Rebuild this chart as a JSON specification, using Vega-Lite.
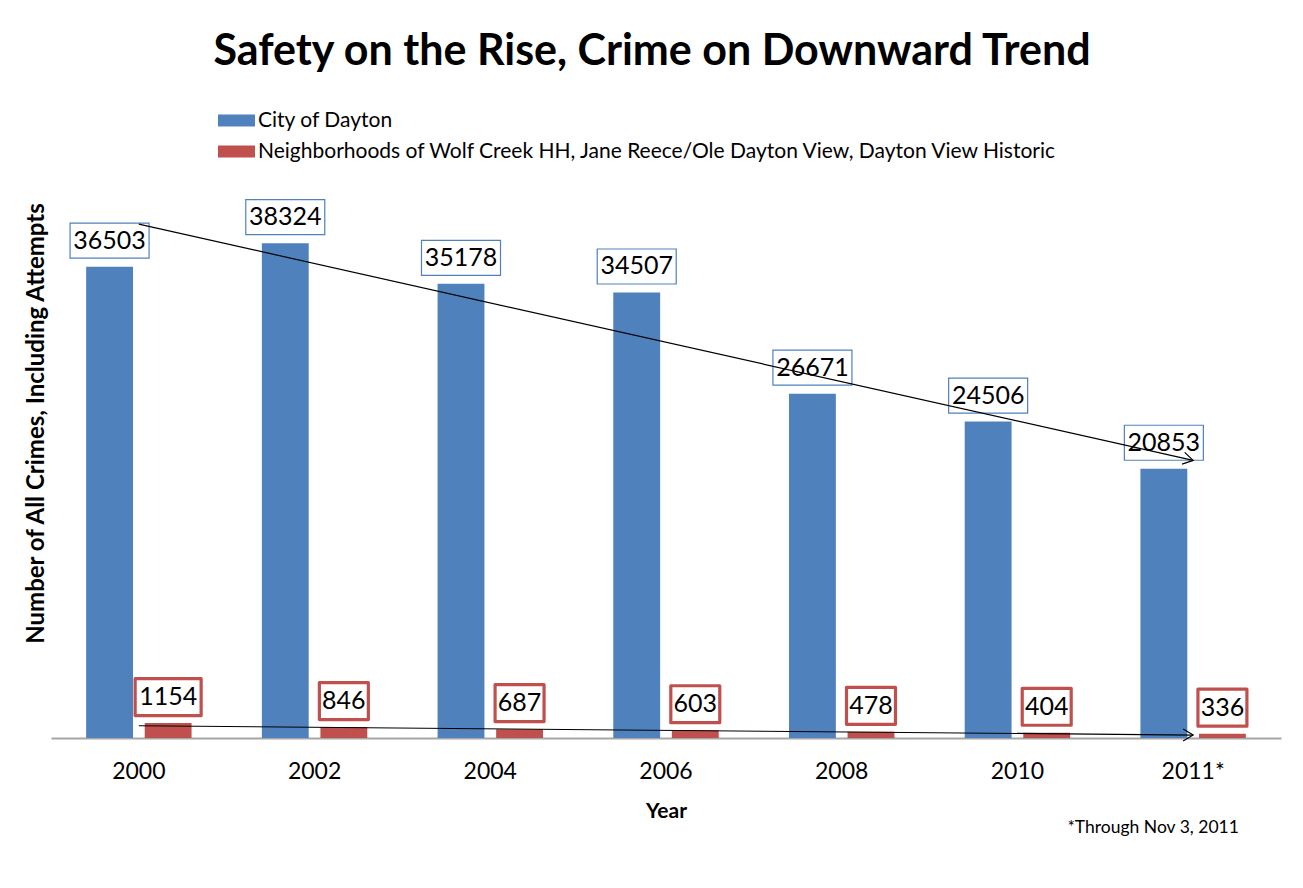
{
  "$schema": "https://vega.github.io/schema/vega-lite/v6.json",
  "autosize": {"type": "none"},
  "width": 1230,
  "height": 581,
  "padding": {"left": 51, "top": 157, "right": 22, "bottom": 150},
  "background": "white",
  "config": {
    "font": "Lato, sans-serif",
    "view": {"stroke": null}
  },
  "title": {
    "text": "Safety on the Rise, Crime on Downward Trend",
    "fontSize": 43,
    "fontWeight": "bold",
    "font": "Lato, sans-serif",
    "color": "#000000",
    "anchor": "middle",
    "frame": "group",
    "dx": -14,
    "offset": 28
  },
  "datasets": {
    "crimes": [
      {"year": "2000", "series": "City of Dayton", "value": 36503},
      {"year": "2002", "series": "City of Dayton", "value": 38324},
      {"year": "2004", "series": "City of Dayton", "value": 35178},
      {"year": "2006", "series": "City of Dayton", "value": 34507},
      {"year": "2008", "series": "City of Dayton", "value": 26671},
      {"year": "2010", "series": "City of Dayton", "value": 24506},
      {"year": "2011*", "series": "City of Dayton", "value": 20853},
      {"year": "2000", "series": "Neighborhoods of Wolf Creek HH, Jane Reece/Ole Dayton View, Dayton View Historic", "value": 1154},
      {"year": "2002", "series": "Neighborhoods of Wolf Creek HH, Jane Reece/Ole Dayton View, Dayton View Historic", "value": 846},
      {"year": "2004", "series": "Neighborhoods of Wolf Creek HH, Jane Reece/Ole Dayton View, Dayton View Historic", "value": 687},
      {"year": "2006", "series": "Neighborhoods of Wolf Creek HH, Jane Reece/Ole Dayton View, Dayton View Historic", "value": 603},
      {"year": "2008", "series": "Neighborhoods of Wolf Creek HH, Jane Reece/Ole Dayton View, Dayton View Historic", "value": 478},
      {"year": "2010", "series": "Neighborhoods of Wolf Creek HH, Jane Reece/Ole Dayton View, Dayton View Historic", "value": 404},
      {"year": "2011*", "series": "Neighborhoods of Wolf Creek HH, Jane Reece/Ole Dayton View, Dayton View Historic", "value": 336}
    ],
    "trend": [
      {"year": "2000", "trend": "city", "value": 39800},
      {"year": "2011*", "trend": "city", "value": 21500},
      {"year": "2000", "trend": "neighborhoods", "value": 950},
      {"year": "2011*", "trend": "neighborhoods", "value": 230}
    ],
    "note": [
      {"year": "2011*", "text": "*Through Nov 3, 2011"}
    ]
  },
  "layer": [
    {
      "data": {"name": "crimes"},
      "mark": {"type": "bar"},
      "encoding": {
        "x": {
          "field": "year", "type": "nominal", "sort": null,
          "scale": {"paddingInner": 0.4, "paddingOuter": 0.2},
          "axis": {
            "title": "Year", "titleFontSize": 21, "titleFontWeight": "bold", "titleColor": "#000000",
            "titlePadding": 17,
            "labelAngle": 0, "labelFontSize": 23, "labelColor": "#000000", "labelPadding": 22,
            "ticks": false, "domain": true, "domainColor": "#a6a6a6", "domainWidth": 2, "grid": false
          }
        },
        "xOffset": {
          "field": "series", "type": "nominal", "sort": null,
          "scale": {"paddingInner": 0.2, "paddingOuter": 0}
        },
        "y": {
          "field": "value", "type": "quantitative",
          "scale": {"domain": [0, 45000], "nice": false},
          "axis": {
            "title": "Number of All Crimes, Including Attempts",
            "titleFontSize": 24, "titleFontWeight": "bold", "titleColor": "#000000",
            "titlePadding": 3, "titleY": 266,
            "labels": false, "ticks": false, "domain": false, "grid": false
          }
        },
        "color": {
          "field": "series", "type": "nominal", "sort": null,
          "scale": {"range": ["#4f81bd", "#c0504d"]},
          "legend": {
            "title": null, "orient": "none", "legendX": 167, "legendY": -55,
            "direction": "vertical",
            "symbolType": "M-1,-0.32H1V0.32H-1Z", "symbolSize": 1369,
            "symbolStrokeWidth": 0,
            "labelFontSize": 21, "labelColor": "#000000", "labelLimit": 1200,
            "rowPadding": 2, "labelOffset": 3
          }
        }
      }
    },
    {
      "data": {"name": "crimes"},
      "transform": [{"filter": "datum.series === 'City of Dayton'"}],
      "mark": {
        "type": "point", "shape": "M-1,-0.443H1V0.443H-1Z", "size": 6241,
        "filled": false, "stroke": "#4f81bd", "strokeWidth": 1.2, "opacity": 1,
        "fill": "white", "fillOpacity": 1, "yOffset": -26
      },
      "encoding": {
        "x": {"field": "year", "type": "nominal", "sort": null},
        "xOffset": {"field": "series", "type": "nominal", "sort": null},
        "y": {"field": "value", "type": "quantitative"}
      }
    },
    {
      "data": {"name": "crimes"},
      "transform": [{"filter": "datum.series !== 'City of Dayton'"}],
      "mark": {
        "type": "point", "size": 4356,
        "filled": false, "stroke": "#c0504d", "strokeWidth": 3.2, "strokeJoin": "round", "opacity": 1,
        "fill": "white", "fillOpacity": 1, "yOffset": -26
      },
      "encoding": {
        "x": {"field": "year", "type": "nominal", "sort": null},
        "xOffset": {"field": "series", "type": "nominal", "sort": null},
        "y": {"field": "value", "type": "quantitative"},
        "shape": {
          "condition": {"test": "datum.value >= 1000", "value": "M-1,-0.56H1V0.56H-1Z"},
          "value": "M-0.742,-0.56H0.742V0.56H-0.742Z"
        }
      }
    },
    {
      "data": {"name": "trend"},
      "mark": {"type": "line", "color": "#000000", "strokeWidth": 1.2},
      "encoding": {
        "x": {"field": "year", "type": "nominal", "sort": null},
        "y": {"field": "value", "type": "quantitative"},
        "detail": {"field": "trend"}
      }
    },
    {
      "data": {"name": "trend"},
      "transform": [{"filter": "datum.year === '2011*' && datum.trend === 'city'"}],
      "mark": {
        "type": "point", "shape": "M-1,-0.6L0,0L-1,0.6", "size": 400,
        "filled": false, "stroke": "#000000", "strokeWidth": 1.2, "opacity": 1, "angle": 12.7
      },
      "encoding": {
        "x": {"field": "year", "type": "nominal", "sort": null},
        "y": {"field": "value", "type": "quantitative"}
      }
    },
    {
      "data": {"name": "trend"},
      "transform": [{"filter": "datum.year === '2011*' && datum.trend === 'neighborhoods'"}],
      "mark": {
        "type": "point", "shape": "M-1,-0.6L0,0L-1,0.6", "size": 400,
        "filled": false, "stroke": "#000000", "strokeWidth": 1.2, "opacity": 1, "angle": 0.5
      },
      "encoding": {
        "x": {"field": "year", "type": "nominal", "sort": null},
        "y": {"field": "value", "type": "quantitative"}
      }
    },
    {
      "data": {"name": "crimes"},
      "mark": {"type": "text", "fontSize": 25, "color": "#000000", "baseline": "middle", "yOffset": -26},
      "encoding": {
        "x": {"field": "year", "type": "nominal", "sort": null},
        "xOffset": {"field": "series", "type": "nominal", "sort": null},
        "y": {"field": "value", "type": "quantitative"},
        "text": {"field": "value", "type": "quantitative", "format": "d"}
      }
    },
    {
      "data": {"name": "note"},
      "mark": {"type": "text", "fontSize": 17.5, "color": "#000000", "baseline": "middle", "align": "center", "dy": 90, "dx": -40},
      "encoding": {
        "x": {"field": "year", "type": "nominal", "sort": null},
        "y": {"datum": 0, "type": "quantitative"},
        "text": {"field": "text"}
      }
    }
  ]
}
